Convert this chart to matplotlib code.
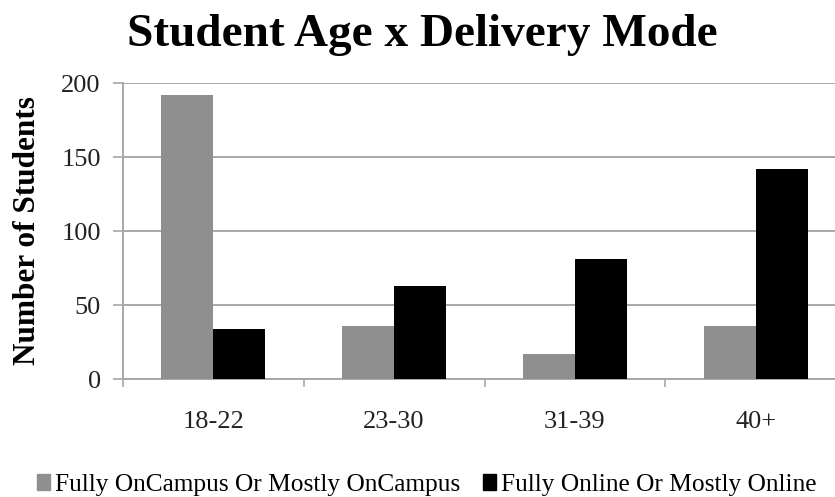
import matplotlib
matplotlib.use("Agg")
import matplotlib.pyplot as plt
import matplotlib.patches as mpatches
import numpy as np

# ── Data ─────────────────────────────────────────────────────────────────────
AGE_GROUPS = ["18-22", "23-30", "31-39", "40+"]
ONCAMPUS = [192, 36, 17, 36]
ONLINE = [34, 63, 81, 142]
SERIES_LABELS = ["Fully OnCampus Or Mostly OnCampus", "Fully Online Or Mostly Online"]
Y_TICKS = [0, 50, 100, 150, 200]

GRAY = "#8f8f8f"
BLACK = "#000000"
GRID = "#a8a8a8"
FONT = "Liberation Serif"

plt.rcParams["font.family"] = FONT

fig = plt.figure(figsize=(8.35, 4.97), dpi=100)
# axes slightly wider than the figure: the original is cropped on the right
ax = fig.add_axes([123 / 835, 1 - 379 / 497, (846 - 123) / 835, (379 - 83) / 497])

x = np.arange(len(AGE_GROUPS))
width = 0.287
ax.bar(x - width / 2, ONCAMPUS, width, color=GRAY, zorder=3)
ax.bar(x + width / 2, ONLINE, width, color=BLACK, zorder=3)

ax.set_xlim(-0.5, len(AGE_GROUPS) - 0.5)
ax.set_ylim(0, 200)
ax.set_yticks(Y_TICKS)
ax.set_yticklabels([str(v) for v in Y_TICKS], fontsize=19, color="#222222")
ax.yaxis.grid(True, color=GRID, linewidth=1.4, zorder=0)

# category labels centred, tick marks between groups
ax.set_xticks(x)
ax.set_xticklabels(AGE_GROUPS, fontsize=19, color="#222222")
ax.tick_params(axis="x", length=0, pad=23)
ax.set_xticks(np.arange(-0.5, len(AGE_GROUPS), 1.0), minor=True)
ax.tick_params(axis="x", which="minor", length=6, width=1.2, color=GRID)
ax.tick_params(axis="y", length=7, width=1.2, color=GRID, pad=9)

for side in ["top", "right"]:
    ax.spines[side].set_visible(False)
ax.spines["left"].set_color(GRID)
ax.spines["left"].set_linewidth(1.4)
ax.spines["bottom"].set_color(GRID)
ax.spines["bottom"].set_linewidth(1.4)

ax.set_ylabel("Number of Students", fontsize=22.5, fontweight="bold")
ax.yaxis.set_label_coords((42 - 123) / 723, 0.5)

fig.text(0.506, 0.93, "Student Age x Delivery Mode", ha="center", va="center",
         fontsize=34, fontweight="bold")

handles = [mpatches.Patch(color=GRAY, label=SERIES_LABELS[0]),
           mpatches.Patch(color=BLACK, label=SERIES_LABELS[1])]
fig.legend(handles=handles, loc="center", bbox_to_anchor=(427 / 835, 1 - 485 / 497), ncol=2,
           frameon=False, fontsize=18.3, handlelength=0.5, handleheight=0.6,
           handletextpad=0.2, columnspacing=0.9, borderpad=0, borderaxespad=0)

fig.savefig("out.png", dpi=100)
